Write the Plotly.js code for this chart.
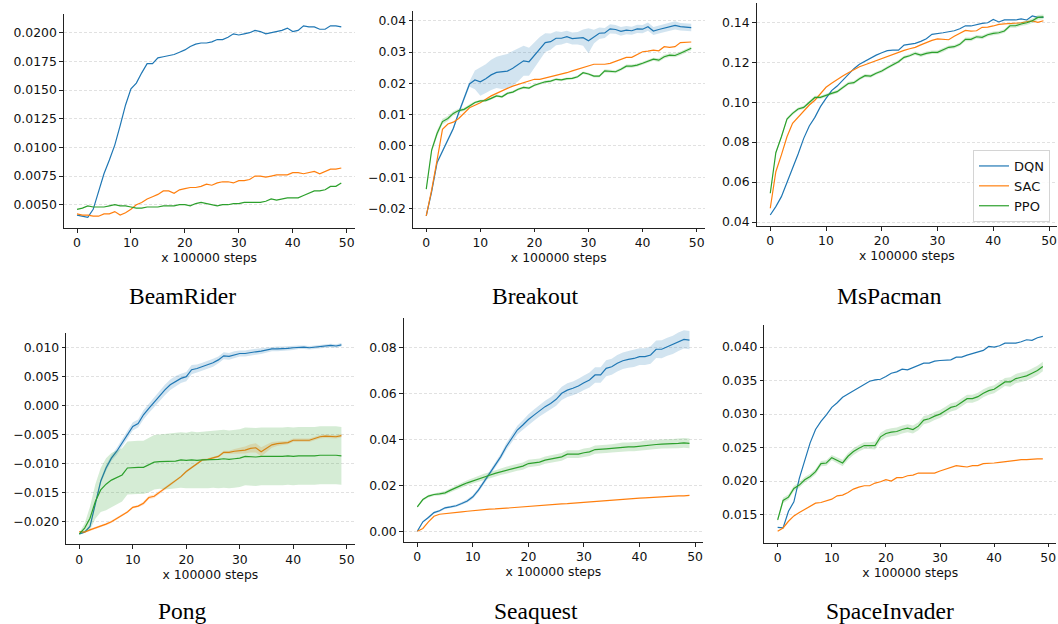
<!DOCTYPE html>
<html><head><meta charset="utf-8">
<script src="https://cdn.plot.ly/plotly-3.0.1.min.js"></script>
<style>html,body{margin:0;padding:0;background:#fff}#chart{width:1058px;height:624px}</style>
</head><body><div id="chart"></div>
<script>
// ---------- data ----------
const steps = [0,1,2,3,4,5,6,7,8,9,10,11,12,13,14,15,16,17,18,19,20,21,22,23,24,25,26,27,28,29,30,31,32,33,34,35,36,37,38,39,40,41,42,43,44,45,46,47,48,49];
const algos = ['DQN','SAC','PPO'];
const games = ['BeamRider','Breakout','MsPacman','Pong','Seaquest','SpaceInvader'];
const xTitle = 'x 100000 steps';

const beamDqn = [0.0041,0.0040,0.0039,0.0046,0.0061,0.0077,0.0089,0.0102,0.0119,0.0137,0.0151,0.0156,0.0165,0.0173,0.0173,0.0178,0.0179,0.0180,0.0181,0.0183,0.0185,0.0188,0.0190,0.0191,0.0191,0.0192,0.0194,0.0194,0.0196,0.0199,0.0198,0.0199,0.0200,0.0202,0.0201,0.0199,0.0200,0.0201,0.0202,0.0204,0.0201,0.0202,0.0206,0.0205,0.0205,0.0203,0.0203,0.0206,0.0206,0.0205];
const beamSac = [0.0042,0.0041,0.0041,0.0040,0.0040,0.0042,0.0042,0.0044,0.0041,0.0043,0.0046,0.0050,0.0052,0.0055,0.0057,0.0059,0.0062,0.0062,0.0060,0.0063,0.0064,0.0065,0.0065,0.0066,0.0068,0.0067,0.0069,0.0070,0.0070,0.0069,0.0071,0.0071,0.0072,0.0075,0.0075,0.0074,0.0075,0.0076,0.0076,0.0076,0.0078,0.0078,0.0077,0.0078,0.0079,0.0077,0.0079,0.0081,0.0081,0.0082];
const beamPpo = [0.0046,0.0047,0.0049,0.0048,0.0048,0.0048,0.0049,0.0050,0.0049,0.0049,0.0048,0.0047,0.0047,0.0048,0.0048,0.0048,0.0049,0.0049,0.0049,0.0050,0.0050,0.0049,0.0051,0.0052,0.0051,0.0050,0.0049,0.0050,0.0050,0.0051,0.0051,0.0052,0.0052,0.0052,0.0052,0.0053,0.0055,0.0054,0.0055,0.0056,0.0056,0.0056,0.0058,0.0060,0.0062,0.0062,0.0063,0.0066,0.0066,0.0069];

const breakDqn = [-0.0223,-0.0146,-0.0053,-0.0018,0.0019,0.0056,0.0106,0.0155,0.0198,0.0211,0.0205,0.0215,0.0227,0.0235,0.0236,0.0239,0.0248,0.0259,0.0272,0.0269,0.0290,0.0312,0.0330,0.0333,0.0344,0.0344,0.0349,0.0343,0.0344,0.0346,0.0336,0.0349,0.0360,0.0361,0.0374,0.0372,0.0366,0.0370,0.0368,0.0374,0.0373,0.0381,0.0367,0.0372,0.0377,0.0381,0.0385,0.0381,0.0379,0.0378];
const breakSac = [-0.0223,-0.0140,-0.0045,0.0053,0.0070,0.0076,0.0088,0.0106,0.0122,0.0130,0.0138,0.0149,0.0160,0.0168,0.0177,0.0184,0.0191,0.0197,0.0202,0.0209,0.0213,0.0213,0.0217,0.0221,0.0226,0.0230,0.0234,0.0240,0.0245,0.0250,0.0255,0.0261,0.0261,0.0261,0.0264,0.0271,0.0278,0.0283,0.0283,0.0291,0.0301,0.0303,0.0306,0.0304,0.0317,0.0315,0.0317,0.0330,0.0331,0.0332];
const breakPpo = [-0.0138,-0.0013,0.0040,0.0078,0.0088,0.0104,0.0113,0.0117,0.0128,0.0139,0.0144,0.0145,0.0152,0.0160,0.0157,0.0168,0.0172,0.0181,0.0187,0.0185,0.0194,0.0200,0.0205,0.0207,0.0213,0.0211,0.0215,0.0216,0.0221,0.0234,0.0230,0.0223,0.0223,0.0240,0.0239,0.0237,0.0245,0.0255,0.0255,0.0258,0.0264,0.0271,0.0277,0.0274,0.0285,0.0290,0.0289,0.0296,0.0304,0.0312];
const breakDqnStd = [0.0004,0.0006,0.0006,0.0006,0.0006,0.0006,0.0007,0.0008,0.0009,0.0030,0.0045,0.0046,0.0048,0.0050,0.0054,0.0055,0.0055,0.0052,0.0048,0.0045,0.0042,0.0036,0.0030,0.0026,0.0022,0.0020,0.0019,0.0019,0.0020,0.0026,0.0040,0.0022,0.0018,0.0016,0.0015,0.0014,0.0014,0.0013,0.0013,0.0013,0.0013,0.0013,0.0013,0.0013,0.0013,0.0013,0.0013,0.0012,0.0012,0.0012];
const breakPpoStd = [0.0003,0.0008,0.0010,0.0009,0.0008,0.0007,0.0006,0.0005,0.0005,0.0004,0.0004,0.0004,0.0004,0.0004,0.0004,0.0004,0.0004,0.0004,0.0004,0.0004,0.0004,0.0004,0.0004,0.0004,0.0004,0.0004,0.0004,0.0004,0.0004,0.0004,0.0004,0.0004,0.0004,0.0005,0.0005,0.0005,0.0005,0.0005,0.0005,0.0005,0.0005,0.0005,0.0005,0.0006,0.0006,0.0006,0.0006,0.0006,0.0006,0.0006];

const pacDqn = [0.0435,0.0477,0.0527,0.0597,0.0677,0.0741,0.0819,0.0881,0.0924,0.0978,0.1019,0.1058,0.1081,0.1111,0.1141,0.1168,0.1190,0.1206,0.1220,0.1236,0.1248,0.1258,0.1261,0.1261,0.1286,0.1291,0.1295,0.1305,0.1318,0.1340,0.1343,0.1348,0.1353,0.1358,0.1368,0.1383,0.1382,0.1390,0.1395,0.1398,0.1415,0.1402,0.1412,0.1412,0.1412,0.1417,0.1412,0.1432,0.1425,0.1425];
const pacSac = [0.0469,0.0652,0.0736,0.0827,0.0894,0.0924,0.0956,0.0986,0.1010,0.1040,0.1075,0.1095,0.1115,0.1131,0.1148,0.1165,0.1178,0.1188,0.1198,0.1210,0.1222,0.1232,0.1242,0.1252,0.1260,0.1268,0.1275,0.1287,0.1299,0.1310,0.1317,0.1316,0.1313,0.1330,0.1345,0.1360,0.1356,0.1358,0.1375,0.1376,0.1382,0.1390,0.1392,0.1393,0.1395,0.1398,0.1403,0.1407,0.1400,0.1408];
const pacPpo = [0.0544,0.0747,0.0827,0.0916,0.0944,0.0966,0.0974,0.0998,0.1024,0.1024,0.1036,0.1044,0.1053,0.1074,0.1094,0.1098,0.1118,0.1133,0.1131,0.1145,0.1156,0.1173,0.1190,0.1203,0.1225,0.1233,0.1245,0.1236,0.1245,0.1250,0.1250,0.1261,0.1275,0.1278,0.1290,0.1315,0.1315,0.1328,0.1325,0.1338,0.1345,0.1348,0.1357,0.1383,0.1383,0.1392,0.1398,0.1408,0.1425,0.1428];
const pacPpoStd = [0.0004,0.0006,0.0007,0.0008,0.0008,0.0008,0.0008,0.0008,0.0008,0.0008,0.0008,0.0008,0.0008,0.0008,0.0008,0.0008,0.0008,0.0008,0.0008,0.0008,0.0008,0.0008,0.0008,0.0008,0.0008,0.0008,0.0009,0.0009,0.0009,0.0009,0.0009,0.0009,0.0009,0.0009,0.0009,0.0009,0.0009,0.0009,0.0009,0.0009,0.0009,0.0009,0.0009,0.0010,0.0010,0.0010,0.0011,0.0011,0.0012,0.0012];

const pongDqn = [-0.0222,-0.0219,-0.0209,-0.0172,-0.0131,-0.0108,-0.0091,-0.0079,-0.0065,-0.0051,-0.0036,-0.0031,-0.0016,-0.0005,0.0006,0.0017,0.0027,0.0036,0.0042,0.0047,0.0050,0.0062,0.0064,0.0067,0.0070,0.0074,0.0079,0.0086,0.0085,0.0088,0.0090,0.0090,0.0092,0.0093,0.0094,0.0096,0.0098,0.0098,0.0098,0.0099,0.0100,0.0101,0.0101,0.0100,0.0101,0.0102,0.0103,0.0104,0.0103,0.0105];
const pongSac = [-0.0218,-0.0219,-0.0215,-0.0212,-0.0208,-0.0205,-0.0201,-0.0195,-0.0189,-0.0184,-0.0176,-0.0174,-0.0169,-0.0159,-0.0157,-0.0150,-0.0143,-0.0136,-0.0130,-0.0123,-0.0114,-0.0107,-0.0100,-0.0094,-0.0093,-0.0090,-0.0088,-0.0081,-0.0081,-0.0079,-0.0078,-0.0077,-0.0074,-0.0073,-0.0080,-0.0074,-0.0068,-0.0066,-0.0065,-0.0064,-0.0060,-0.0060,-0.0061,-0.0060,-0.0057,-0.0054,-0.0053,-0.0053,-0.0054,-0.0052];
const pongPpo = [-0.0222,-0.0212,-0.0195,-0.0166,-0.0146,-0.0136,-0.0129,-0.0125,-0.0120,-0.0108,-0.0107,-0.0107,-0.0107,-0.0103,-0.0098,-0.0097,-0.0097,-0.0096,-0.0096,-0.0094,-0.0095,-0.0094,-0.0095,-0.0094,-0.0094,-0.0093,-0.0093,-0.0092,-0.0093,-0.0092,-0.0091,-0.0088,-0.0089,-0.0089,-0.0088,-0.0088,-0.0089,-0.0088,-0.0088,-0.0087,-0.0088,-0.0087,-0.0087,-0.0088,-0.0087,-0.0086,-0.0086,-0.0085,-0.0086,-0.0087];
const pongDqnStd = [0.0001,0.0001,0.0002,0.0003,0.0004,0.0005,0.0005,0.0006,0.0006,0.0007,0.0007,0.0007,0.0008,0.0008,0.0008,0.0009,0.0009,0.0009,0.0009,0.0008,0.0008,0.0008,0.0007,0.0007,0.0007,0.0007,0.0006,0.0006,0.0006,0.0006,0.0005,0.0005,0.0005,0.0005,0.0005,0.0004,0.0004,0.0004,0.0004,0.0004,0.0004,0.0003,0.0003,0.0003,0.0003,0.0003,0.0003,0.0003,0.0003,0.0003];
const pongSacStd = [0.0001,0.0001,0.0002,0.0002,0.0002,0.0002,0.0002,0.0002,0.0002,0.0002,0.0002,0.0002,0.0003,0.0003,0.0003,0.0003,0.0003,0.0002,0.0002,0.0002,0.0002,0.0002,0.0002,0.0002,0.0002,0.0002,0.0002,0.0003,0.0003,0.0004,0.0005,0.0006,0.0007,0.0008,0.0008,0.0007,0.0005,0.0004,0.0003,0.0003,0.0003,0.0003,0.0003,0.0003,0.0003,0.0003,0.0003,0.0003,0.0003,0.0003];
const pongPpoStd = [0.0002,0.0008,0.0020,0.0030,0.0038,0.0045,0.0047,0.0047,0.0046,0.0046,0.0046,0.0046,0.0046,0.0047,0.0047,0.0047,0.0048,0.0048,0.0048,0.0048,0.0048,0.0049,0.0049,0.0049,0.0049,0.0049,0.0050,0.0050,0.0050,0.0050,0.0050,0.0050,0.0050,0.0050,0.0050,0.0050,0.0050,0.0050,0.0050,0.0050,0.0050,0.0050,0.0050,0.0050,0.0050,0.0050,0.0050,0.0050,0.0050,0.0050];

const seaDqn = [0.0000,0.0041,0.0060,0.0081,0.0089,0.0102,0.0106,0.0111,0.0121,0.0132,0.0150,0.0179,0.0215,0.0252,0.0284,0.0324,0.0368,0.0404,0.0441,0.0463,0.0487,0.0506,0.0525,0.0543,0.0557,0.0575,0.0601,0.0615,0.0623,0.0633,0.0647,0.0659,0.0681,0.0681,0.0710,0.0717,0.0732,0.0743,0.0749,0.0753,0.0761,0.0761,0.0768,0.0793,0.0793,0.0804,0.0812,0.0826,0.0836,0.0833];
const seaSac = [0.0000,0.0012,0.0041,0.0065,0.0074,0.0076,0.0077,0.0081,0.0084,0.0087,0.0090,0.0092,0.0095,0.0096,0.0097,0.0099,0.0100,0.0103,0.0104,0.0108,0.0109,0.0110,0.0112,0.0114,0.0116,0.0117,0.0119,0.0120,0.0122,0.0124,0.0127,0.0128,0.0129,0.0132,0.0133,0.0135,0.0138,0.0139,0.0141,0.0142,0.0144,0.0145,0.0147,0.0148,0.0150,0.0151,0.0153,0.0154,0.0154,0.0156];
const seaPpo = [0.0106,0.0138,0.0153,0.0160,0.0163,0.0167,0.0179,0.0191,0.0201,0.0211,0.0220,0.0228,0.0237,0.0244,0.0252,0.0259,0.0266,0.0273,0.0278,0.0284,0.0295,0.0298,0.0301,0.0310,0.0314,0.0320,0.0324,0.0336,0.0336,0.0336,0.0342,0.0346,0.0356,0.0356,0.0359,0.0361,0.0364,0.0368,0.0368,0.0368,0.0371,0.0375,0.0375,0.0378,0.0380,0.0380,0.0381,0.0383,0.0385,0.0383];
const seaDqnStd = [0.0003,0.0004,0.0005,0.0005,0.0005,0.0005,0.0005,0.0005,0.0006,0.0007,0.0008,0.0009,0.0010,0.0011,0.0012,0.0013,0.0015,0.0017,0.0019,0.0021,0.0023,0.0024,0.0025,0.0026,0.0027,0.0028,0.0029,0.0030,0.0030,0.0031,0.0032,0.0033,0.0034,0.0034,0.0035,0.0035,0.0036,0.0036,0.0036,0.0037,0.0037,0.0037,0.0038,0.0038,0.0039,0.0039,0.0040,0.0040,0.0040,0.0040];
const seaPpoStd = [0.0004,0.0005,0.0006,0.0006,0.0007,0.0008,0.0009,0.0010,0.0010,0.0011,0.0012,0.0012,0.0013,0.0013,0.0014,0.0014,0.0015,0.0015,0.0015,0.0016,0.0016,0.0016,0.0016,0.0016,0.0017,0.0017,0.0017,0.0017,0.0017,0.0017,0.0018,0.0018,0.0018,0.0018,0.0018,0.0018,0.0019,0.0019,0.0019,0.0019,0.0019,0.0020,0.0020,0.0020,0.0020,0.0020,0.0021,0.0021,0.0021,0.0021];

const spaceDqn = [0.0131,0.0130,0.0155,0.0169,0.0204,0.0232,0.0257,0.0277,0.0289,0.0299,0.0310,0.0317,0.0325,0.0330,0.0335,0.0339,0.0344,0.0349,0.0351,0.0352,0.0356,0.0361,0.0363,0.0367,0.0366,0.0369,0.0372,0.0376,0.0376,0.0379,0.0380,0.0381,0.0381,0.0385,0.0385,0.0388,0.0390,0.0392,0.0395,0.0401,0.0400,0.0402,0.0406,0.0406,0.0406,0.0408,0.0411,0.0410,0.0414,0.0416];
const spaceSac = [0.0125,0.0130,0.0140,0.0148,0.0153,0.0158,0.0163,0.0167,0.0168,0.0170,0.0173,0.0178,0.0179,0.0183,0.0188,0.0191,0.0193,0.0193,0.0197,0.0199,0.0202,0.0200,0.0205,0.0205,0.0208,0.0209,0.0212,0.0212,0.0212,0.0212,0.0215,0.0218,0.0220,0.0223,0.0222,0.0221,0.0223,0.0223,0.0226,0.0226,0.0227,0.0228,0.0229,0.0231,0.0231,0.0232,0.0232,0.0233,0.0233,0.0233];
const spacePpo = [0.0142,0.0171,0.0176,0.0189,0.0194,0.0202,0.0207,0.0214,0.0226,0.0227,0.0235,0.0231,0.0227,0.0237,0.0244,0.0249,0.0253,0.0253,0.0253,0.0266,0.0271,0.0273,0.0274,0.0277,0.0279,0.0277,0.0282,0.0291,0.0293,0.0297,0.0300,0.0305,0.0310,0.0312,0.0317,0.0323,0.0323,0.0326,0.0331,0.0335,0.0337,0.0342,0.0348,0.0348,0.0353,0.0355,0.0357,0.0361,0.0365,0.0371];
const spacePpoStd = [0.0003,0.0004,0.0004,0.0004,0.0004,0.0004,0.0004,0.0004,0.0004,0.0004,0.0004,0.0004,0.0005,0.0005,0.0005,0.0005,0.0005,0.0005,0.0006,0.0006,0.0006,0.0006,0.0006,0.0006,0.0006,0.0006,0.0006,0.0006,0.0006,0.0006,0.0006,0.0006,0.0006,0.0006,0.0006,0.0006,0.0006,0.0006,0.0006,0.0006,0.0006,0.0006,0.0006,0.0007,0.0007,0.0007,0.0007,0.0007,0.0007,0.0007];

// ---------- styles & layout ----------
const W = 1058, H = 624;
const colors = ['#1f77b4', '#ff7f0e', '#2ca02c'];
const fills = ['rgba(31,119,180,0.2)', 'rgba(255,127,14,0.2)', 'rgba(44,160,44,0.2)'];
const tickFont = {family: 'DejaVu Sans', size: 12.4, color: '#111'};
const serif = {family: 'Liberation Serif, Times New Roman, serif', size: 23.5, color: '#000'};

// box = [left, right, top, bottom] in px; label = [cx, cy]
const panels = [
  {series: [beamDqn, beamSac, beamPpo], std: [null, null, null], box: [63.8, 354.5, 14, 228], yr: [0.00297, 0.02163], dtick: 0.0025, fmt: '.4f', label: [182.5, 296]},
  {series: [breakDqn, breakSac, breakPpo], std: [breakDqnStd, null, breakPpoStd], box: [413.0, 704.5, 10.7, 227.7], yr: [-0.0261, 0.0432], dtick: 0.01, fmt: '.2f', label: [535.5, 296]},
  {series: [pacDqn, pacSac, pacPpo], std: [null, null, pacPpoStd], box: [756.6, 1057.1, 3, 226], yr: [0.0380, 0.1497], dtick: 0.02, fmt: '.2f', label: [889.5, 296]},
  {series: [pongDqn, pongSac, pongPpo], std: [pongDqnStd, pongSacStd, pongPpoStd], box: [66.2, 354.5, 332.7, 544.3], yr: [-0.0240, 0.0126], dtick: 0.005, fmt: '.3f', label: [183, 611]},
  {series: [seaDqn, seaSac, seaPpo], std: [seaDqnStd, null, seaPpoStd], box: [403.7, 703.1, 318.3, 542], yr: [-0.0047, 0.0928], dtick: 0.02, fmt: '.2f', label: [536, 611]},
  {series: [spaceDqn, spaceSac, spacePpo], std: [null, null, spacePpoStd], box: [764.4, 1056.1, 325, 542.7], yr: [0.0108, 0.0433], dtick: 0.005, fmt: '.3f', label: [890, 611]}
];

const traces = [];
const layout = {
  width: W, height: H,
  margin: {l: 0, r: 0, t: 0, b: 0, pad: 0},
  paper_bgcolor: '#fff', plot_bgcolor: '#fff',
  showlegend: true,
  legend: {
    x: 1050 / W, xanchor: 'right', y: 1 - 222 / H, yanchor: 'bottom',
    bgcolor: 'rgba(255,255,255,0.85)', bordercolor: '#d4d4d4', borderwidth: 1,
    font: {family: 'DejaVu Sans', size: 13, color: '#111'},
    itemwidth: 30, tracegroupgap: 0
  },
  annotations: []
};

panels.forEach((p, i) => {
  const sfx = i === 0 ? '' : String(i + 1);
  const xa = 'x' + sfx, ya = 'y' + sfx;
  const [l, r, t, b] = p.box;
  layout['xaxis' + sfx] = {
    domain: [l / W, r / W], anchor: ya,
    range: [-2.45, 51.45], dtick: 10, tick0: 0,
    showline: true, linecolor: '#222', linewidth: 1,
    ticks: 'outside', ticklen: 3.5, tickwidth: 1, tickcolor: '#222',
    showgrid: false, zeroline: false, tickfont: tickFont,
    title: {text: xTitle, font: tickFont, standoff: 2}
  };
  layout['yaxis' + sfx] = {
    domain: [1 - b / H, 1 - t / H], anchor: xa,
    range: p.yr, dtick: p.dtick, tick0: 0, tickformat: p.fmt,
    showline: true, linecolor: '#222', linewidth: 1,
    ticks: 'outside', ticklen: 3.5, tickwidth: 1, tickcolor: '#222',
    showgrid: true, gridcolor: '#dadada', griddash: '3px,2px', gridwidth: 0.8,
    zeroline: false, tickfont: tickFont
  };
  p.series.forEach((ys, k) => {
    const sd = p.std[k];
    if (sd) {
      traces.push({x: steps, y: ys.map((v, j) => v + sd[j]), xaxis: xa, yaxis: ya, mode: 'lines',
        line: {width: 0, color: colors[k]}, showlegend: false, hoverinfo: 'skip'});
      traces.push({x: steps, y: ys.map((v, j) => v - sd[j]), xaxis: xa, yaxis: ya, mode: 'lines',
        line: {width: 0, color: colors[k]}, fill: 'tonexty', fillcolor: fills[k], showlegend: false, hoverinfo: 'skip'});
    }
    traces.push({x: steps, y: ys, xaxis: xa, yaxis: ya, mode: 'lines', name: algos[k],
      line: {width: 1.2, color: colors[k]}, showlegend: i === 0, legendgroup: algos[k]});
  });
  layout.annotations.push({
    text: games[i], xref: 'paper', yref: 'paper',
    x: p.label[0] / W, y: 1 - p.label[1] / H, xanchor: 'center', yanchor: 'middle',
    showarrow: false, font: serif
  });
});

Plotly.newPlot('chart', traces, layout, {staticPlot: true, displayModeBar: false});
</script></body></html>
